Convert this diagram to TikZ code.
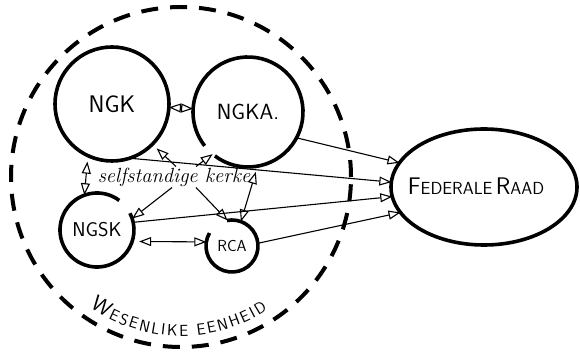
\documentclass[tikz,border=0pt]{standalone}
\usepackage{fontspec}
\usetikzlibrary{arrows.meta,shapes.geometric,decorations.text,calc}
\begin{document}
\begin{tikzpicture}[x=1pt,y=1pt,
  ring/.style={circle, draw, line width=3.6pt, inner sep=0pt, outer sep=0pt},
  openring/.style={circle, inner sep=0pt, outer sep=0pt},
  arc line/.style={line width=3.6pt},
  conn/.style={line width=1.1pt, -{Triangle[open,length=12pt,width=9pt]}},
  dconn/.style={line width=1.1pt, {Triangle[open,length=12pt,width=9pt]}-{Triangle[open,length=12pt,width=9pt]}},
  lab/.style={font=\sffamily\fontsize{#1}{#1}\selectfont}
]
\useasboundingbox (0,0) rectangle (580,-352);

% big dashed circle
\node[circle, draw, line width=4pt, dash pattern=on 17pt off 12pt, inner sep=0pt, outer sep=0pt, minimum size=340pt] (we) at (181,-177) {};

% churches
\node[ring, minimum size=114pt, lab=24] (ngk) at (112,-104) {NGK};
\node[openring, minimum size=110pt, lab=22] (ngka) at (248,-112) {NGKA.};
\draw[arc line] (ngka.233) arc[start angle=233, end angle=578, radius=55pt];
\node[openring, minimum size=74pt, lab=20] (ngsk) at (97,-230) {NGSK};
\draw[arc line] (ngsk.53) arc[start angle=53, end angle=387, radius=37pt];
\node[openring, minimum size=52pt, lab=16] (rca) at (232,-246) {RCA};
\draw[arc line] (rca.150) arc[start angle=150, end angle=461, radius=26pt];

% federal council
\node[ellipse, draw, line width=3.6pt, inner sep=0pt, outer sep=0pt, minimum width=186pt, minimum height=116pt] (fr) at (484,-187) {};
\node[font=\sffamily] (frl) at (476,-186) {{\fontsize{24}{24}\selectfont F}{\fontsize{17.5}{17.5}\selectfont EDERALE} {\fontsize{24}{24}\selectfont R}{\fontsize{17.5}{17.5}\selectfont AAD}};

% selfstandige kerke
\node[font=\itshape\fontsize{20.5}{20.5}\selectfont, inner sep=1pt] (sk) at (174,-177) {selfstandige kerke};

% mutual links
\draw[dconn] (ngk) -- (ngka);
\draw[dconn, shorten >=6pt] (ngsk.110) -- (ngk.245);
\draw[dconn, shorten >=6pt] (rca.70) -- (ngka.-80);
\draw[dconn, shorten <=7pt] (ngsk.-18) -- (rca.171);

% from the independent churches
\draw[conn, shorten >=6pt] ([xshift=2pt]sk.north) -- (ngk.-45);
\draw[conn] ([xshift=22pt]sk.north) -- (ngka.230);
\draw[conn] ([xshift=-2pt]sk.south) -- (ngsk.18);
\draw[conn] ([xshift=22pt]sk.south) -- (rca.100);

% to the federal council
\draw[conn] (ngka.-28) -- (fr.164);
\draw[conn] (ngk.-72) -- (fr.177);
\draw[conn] (ngsk.12) -- (fr.186);
\draw[conn] (rca.6) -- (fr.197);

% label along the circle
\path[decorate, decoration={text along path, text align={fit to path},
  text={|\sffamily\fontsize{22}{22}\selectfont|W|\sffamily\fontsize{16}{16}\selectfont|ESENLIKE EENHEID}}]
  ($(we.center)+(235:159)$) arc[start angle=235, end angle=303, radius=159pt];
\end{tikzpicture}
\end{document}
